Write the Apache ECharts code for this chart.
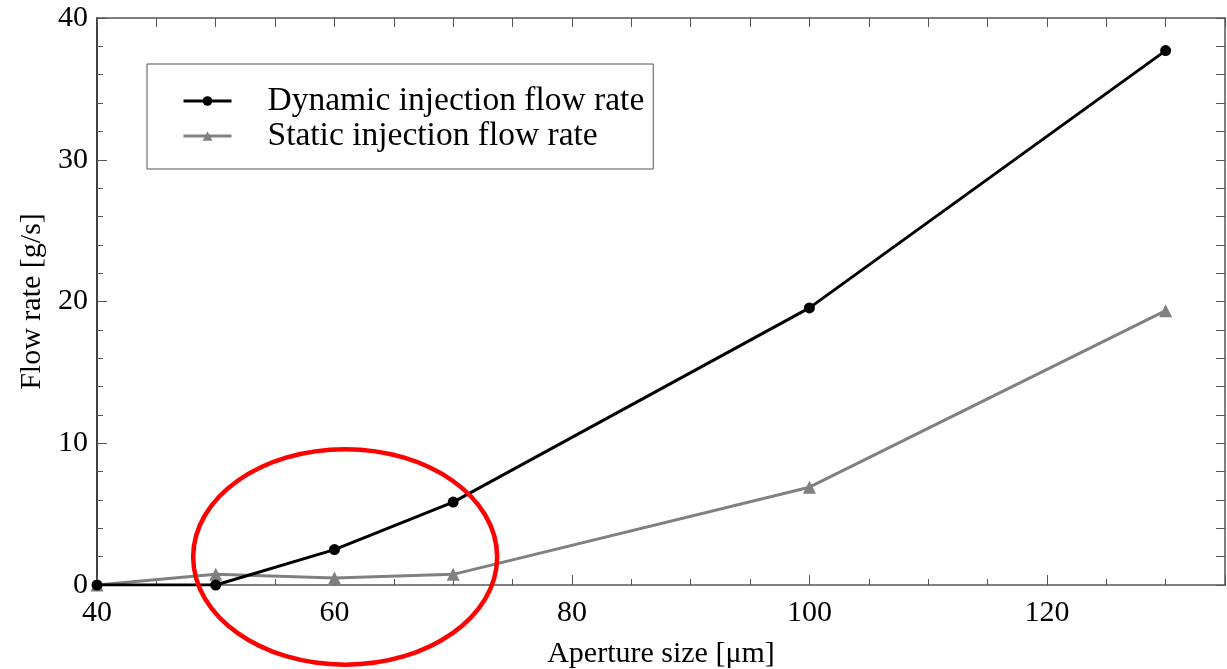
<!DOCTYPE html>
<html>
<head>
<meta charset="utf-8">
<script src="https://cdn.jsdelivr.net/npm/echarts@6/dist/echarts.min.js"></script>
<style>
  html, body { margin: 0; padding: 0; background: #fff; }
  #chart { width: 1227px; height: 669px; }
</style>
</head>
<body>
<div id="chart"></div>
<script>
// aperture sizes [µm]
const apertures = [40, 50, 60, 70, 100, 130]
// flow rates [g/s]
const dynamicFlow = [0, 0, 2.5, 5.85, 19.55, 37.7]
const staticFlow = [0, 0.75, 0.5, 0.75, 6.9, 19.35]
// highlighted region (data units): centre and half-widths
const highlight = { x: 60.9, y: 1.98, rx: 12.8, ry: 7.6 }

const font = '"Liberation Serif", "Times New Roman", serif'
const axisGrey = '#555'

const chart = echarts.init(document.getElementById('chart'))

function pairs(ys) {
  return apertures.map((x, i) => [x, ys[i]])
}

const mirrorAxis = {
  axisLabel: { show: false },
  axisTick: { inside: true, length: 9, lineStyle: { color: axisGrey } },
  splitLine: { show: false },
  axisLine: { onZero: false, lineStyle: { color: axisGrey, width: 1.5 } }
}

chart.setOption({
  animation: false,
  textStyle: { fontFamily: font },
  grid: { left: 97, right: 2, top: 18, bottom: 84, outerBoundsMode: 'none' },
  legend: {
    orient: 'vertical',
    left: 147,
    top: 64,
    padding: [20, 9, 16, 35],
    itemGap: 1,
    itemWidth: 48,
    itemHeight: 12,
    borderColor: '#555',
    borderWidth: 1,
    lineStyle: { width: 3 },
    textStyle: { fontFamily: font, fontSize: 33.5, color: '#000', padding: [0, 0, 0, 31] },
    data: ['Dynamic injection flow rate', 'Static injection flow rate']
  },
  xAxis: [{
    type: 'value',
    min: 40,
    max: 135,
    interval: 20,
    name: 'Aperture size [μm]',
    nameLocation: 'middle',
    nameGap: 54,
    nameTextStyle: { fontFamily: font, fontSize: 30, color: '#000' },
    axisLabel: {
      fontFamily: font, fontSize: 30, color: '#000', margin: 13,
      showMaxLabel: false
    },
    axisTick: { inside: true, length: 10, lineStyle: { color: axisGrey } },
    minorTick: { show: true, splitNumber: 4, length: 6, lineStyle: { color: axisGrey } },
    splitLine: { show: false },
    axisLine: { onZero: false, lineStyle: { color: axisGrey, width: 1.5 } }
  }, Object.assign({
    type: 'value', position: 'top', min: 40, max: 135, interval: 20
  }, mirrorAxis, { minorTick: { show: true, splitNumber: 4, length: 9, lineStyle: { color: axisGrey } } })],
  yAxis: [{
    type: 'value',
    min: 0,
    max: 40,
    interval: 10,
    name: 'Flow rate [g/s]',
    nameLocation: 'middle',
    nameGap: 49,
    nameTextStyle: { fontFamily: font, fontSize: 30, color: '#000' },
    axisLabel: { fontFamily: font, fontSize: 30, color: '#000', margin: 9 },
    axisTick: { inside: true, length: 10, lineStyle: { color: axisGrey } },
    minorTick: { show: true, splitNumber: 5, length: 6, lineStyle: { color: axisGrey } },
    splitLine: { show: false },
    axisLine: { onZero: false, lineStyle: { color: '#000', width: 1.5 } }
  }, Object.assign({
    type: 'value', position: 'right', min: 0, max: 40, interval: 10
  }, mirrorAxis, { minorTick: { show: true, splitNumber: 5, length: 9, lineStyle: { color: axisGrey } } })],
  series: [{
    name: 'Dynamic injection flow rate',
    type: 'line',
    data: pairs(dynamicFlow),
    symbol: 'circle',
    symbolSize: 11,
    color: '#000',
    lineStyle: { width: 3, color: '#000' },
    itemStyle: { color: '#000' },
    z: 3
  }, {
    name: 'Static injection flow rate',
    type: 'line',
    data: pairs(staticFlow),
    symbol: 'triangle',
    symbolSize: 13,
    color: '#808080',
    lineStyle: { width: 3, color: '#808080' },
    itemStyle: { color: '#808080' },
    z: 2
  }]
})

// red ellipse drawn around the low-aperture region
const c = chart.convertToPixel({ xAxisIndex: 0, yAxisIndex: 0 }, [highlight.x, highlight.y])
const e = chart.convertToPixel({ xAxisIndex: 0, yAxisIndex: 0 }, [highlight.x + highlight.rx, highlight.y + highlight.ry])
chart.setOption({
  graphic: [{
    type: 'ellipse',
    shape: { cx: c[0], cy: c[1], rx: e[0] - c[0], ry: c[1] - e[1] },
    style: { fill: null, stroke: '#f00', lineWidth: 4.5 },
    z: 100
  }]
})
</script>
</body>
</html>
